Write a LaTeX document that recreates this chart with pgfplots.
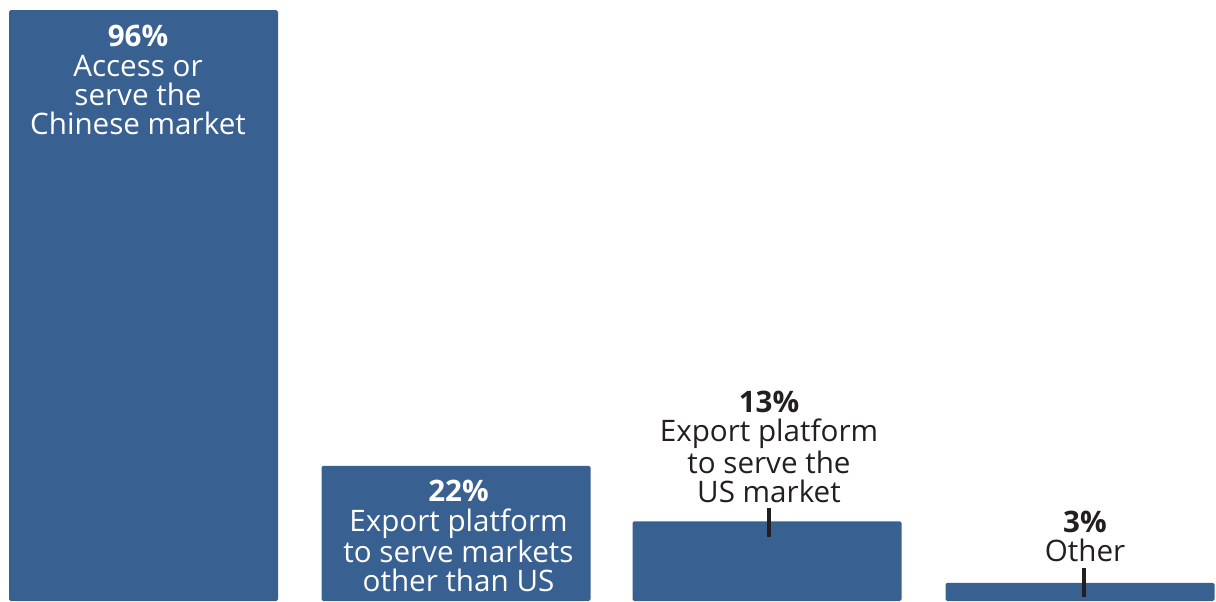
\documentclass[border=0pt]{standalone}
\usepackage{pgfplots}
\pgfplotsset{compat=1.18}
\usepackage{fontspec}
\setmainfont{Open Sans}
\definecolor{barblue}{HTML}{386091}
\definecolor{txtdark}{HTML}{231F20}
\tikzset{lbl/.style={font=\fontsize{14.8}{14.6}\selectfont, align=center, inner sep=0pt}}
\begin{document}
\begin{tikzpicture}
\begin{axis}[
  width=608pt, height=300.5pt, scale only axis,
  xmin=0, xmax=1216, ymin=0.05, ymax=97.66,
  hide axis, clip=true,
  ybar, bar width=269, bar shift=0pt,
]
\addplot[fill=barblue, draw=none, rounded corners=0.8pt] coordinates {(143.5,96) (456,22) (767,13) (1080,3)};
\coordinate (ll) at (rel axis cs:0,0);
\coordinate (ur) at (rel axis cs:1,1);
\end{axis}
\begin{axis}[
  width=608pt, height=300.5pt, scale only axis,
  xmin=0, xmax=1216, ymin=0.05, ymax=97.66,
  hide axis, clip=false,
]
\addplot[draw=none] coordinates {(0,0.4)};
\node[lbl, anchor=north, text=white] at (axis cs:138,93.6) {\textbf{96\%}\\Access or\\serve the\\Chinese market};
\node[lbl, anchor=north, text=white] at (axis cs:458.5,19.7) {\textbf{22\%}\\Export platform\\to serve markets\\other than US};
\node[lbl, anchor=south, text=txtdark] at (axis cs:769,15.96) {\textbf{13\%}\\Export platform\\to serve the\\US market};
\node[lbl, anchor=south, text=txtdark] at (axis cs:1085,6.38) {\textbf{3\%}\\Other};
\draw[txtdark, line width=1.6pt] (axis cs:769,15.16) -- (axis cs:769,10.44);
\draw[txtdark, line width=1.6pt] (axis cs:1084,5.41) -- (axis cs:1084,0.70);
\end{axis}
\pgfresetboundingbox
\path[use as bounding box] (ll) rectangle (ur);
\end{tikzpicture}
\end{document}
